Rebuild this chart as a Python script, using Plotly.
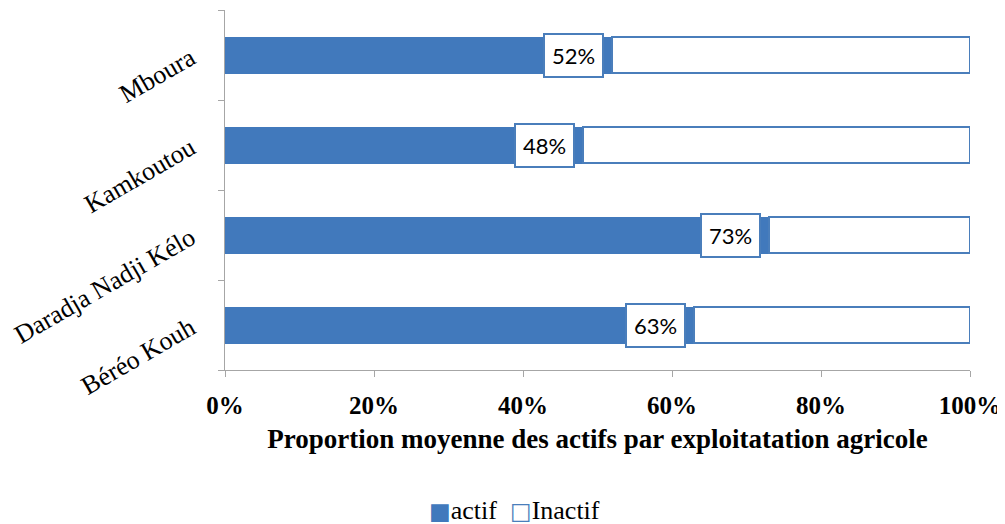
import plotly.graph_objects as go

villages = ["Béréo Kouh", "Daradja Nadji Kélo", "Kamkoutou", "Mboura"]
actif = [0.63, 0.73, 0.48, 0.52]
inactif = [1 - v for v in actif]
labels = ["63%", "73%", "48%", "52%"]
series_names = ["actif", "Inactif"]

blue = "#4179BC"
edge = "#4A7EBB"
grey = "#A6A6A6"
serif = "Liberation Serif"

fig = go.Figure()
fig.add_trace(go.Bar(
    y=villages, x=actif, name=series_names[0], orientation="h",
    marker=dict(color=blue, line=dict(color=blue, width=1)),
    width=0.4,
))
fig.add_trace(go.Bar(
    y=villages, x=inactif, name=series_names[1], orientation="h",
    marker=dict(color="white", line=dict(color=edge, width=2)),
    width=0.4,
))

# value labels in boxes at the end of the actif bars
for v, lab, val in zip(villages, labels, actif):
    fig.add_annotation(
        x=val, y=v, text=lab, showarrow=False,
        xanchor="right", xshift=-8,
        font=dict(family="Lato", size=22, color="black"),
        bgcolor="white", bordercolor=edge, borderwidth=2, borderpad=7,
    )

# legend written as text in the serif font
legend_text = (
    f"<span style='color:{blue};font-size:23px;font-family:DejaVu Sans'>■</span>{series_names[0]}"
    f"  <span style='color:{edge};font-size:23px;font-family:DejaVu Sans'>□</span>{series_names[1]}"
)
fig.add_annotation(
    xref="paper", yref="paper", x=0.389, y=-0.389,
    xanchor="center", yanchor="middle", showarrow=False,
    text=legend_text, font=dict(family="Times New Roman, Liberation Serif, serif", size=26, color="black"),
)

# page body has an 8px margin, so the figure is drawn 8px smaller
fig.update_layout(
    barmode="stack",
    width=997, height=516,
    margin=dict(l=217, r=35, t=2, b=154),
    plot_bgcolor="white", paper_bgcolor="white",
    font=dict(family=serif, color="black"),
    showlegend=False,
    xaxis=dict(
        range=[0, 1], dtick=0.2, tickformat=".0%",
        showgrid=False, zeroline=False,
        showline=True, linecolor=grey, linewidth=1,
        ticks="outside", ticklen=6, tickcolor=grey,
        ticklabelstandoff=7,
        tickfont=dict(size=25, family=serif, weight="bold"),
        title=dict(text="Proportion moyenne des actifs par exploitatation agricole",
                   font=dict(size=27, family=serif, weight="bold"),
                   standoff=11),
    ),
    yaxis=dict(
        showgrid=False, showline=True, linecolor=grey, linewidth=1,
        ticks="outside", ticklen=6, tickcolor=grey, tickson="boundaries",
        tickangle=-30, tickfont=dict(size=26, family=serif),
        ticklabelstandoff=28,
    ),
)

fig.write_html("out.html")
